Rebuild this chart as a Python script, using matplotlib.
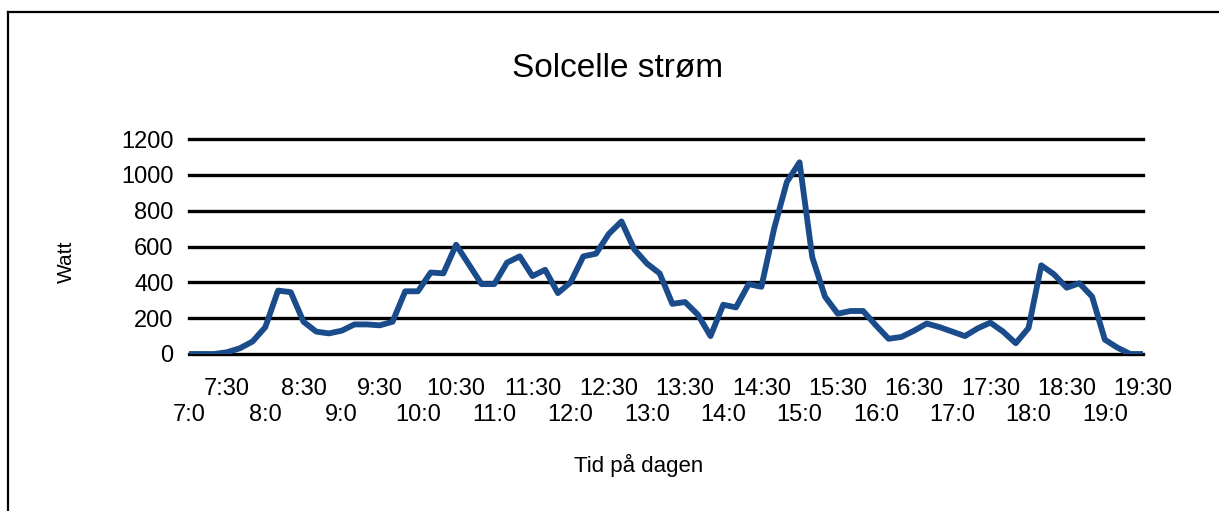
import numpy as np
import matplotlib
matplotlib.use("Agg")
import matplotlib.pyplot as plt
from matplotlib.lines import Line2D

plt.rcParams['font.family'] = ['Liberation Sans', 'DejaVu Sans']

# solar panel output, one reading every 10 minutes from 7:00 to 19:30
watt = [0, 0, 0, 10, 32, 70, 150, 354, 345, 180, 125, 115, 130,
        165, 165, 160, 180, 350, 350, 455, 450, 610, 500, 390, 390,
        510, 545, 435, 470, 340, 400, 545, 560, 670, 740, 585, 505,
        450, 280, 290, 220, 100, 275, 260, 390, 375, 700, 960, 1070,
        540, 320, 225, 240, 240, 160, 85, 95, 130, 170, 150, 125,
        100, 143, 175, 125, 60, 145, 495, 445, 370, 395, 320, 80,
        35, 0, 0]

tick_labels = ["7:0", "7:30", "8:0", "8:30", "9:0", "9:30", "10:0", "10:30",
               "11:0", "11:30", "12:0", "12:30", "13:0", "13:30", "14:0",
               "14:30", "15:0", "15:30", "16:0", "16:30", "17:0", "17:30",
               "18:0", "18:30", "19:0", "19:30"]
yticks = [0, 200, 400, 600, 800, 1000, 1200]

fig = plt.figure(figsize=(12.19, 5.11), dpi=100)
ax = fig.add_axes([189/1219, 1-354/511, (1143-189)/1219, (354-139)/511])

x = np.arange(len(watt))
for y in yticks:
    ax.axhline(y, color='black', lw=2.4, zorder=1, clip_on=False)
ax.plot(x, watt, color='#1a4b8a', lw=4.2, solid_joinstyle='round', zorder=3)

ax.set_xlim(0, len(watt) - 1)
ax.set_ylim(0, 1200)
for s in ax.spines.values():
    s.set_visible(False)

ax.set_yticks(yticks)
ax.set_yticklabels([str(v) for v in yticks], fontsize=17)
ax.tick_params(axis='y', length=0, pad=11)

# every third reading gets a label: half hours on the top row, hours below
xt = x[::3]
half = [i for i, l in enumerate(tick_labels) if ":30" in l]
full = [i for i, l in enumerate(tick_labels) if ":30" not in l]
ax.set_xticks(xt[half])
ax.set_xticklabels([tick_labels[i] for i in half], fontsize=17)
ax.set_xticks(xt[full], minor=True)
ax.set_xticklabels([tick_labels[i] for i in full], minor=True, fontsize=17)
ax.tick_params(axis='x', which='major', length=0, pad=17)
ax.tick_params(axis='x', which='minor', length=0, pad=36)

fig.text(0.507, 1-68/511, "Solcelle strøm", fontsize=24, ha='center', va='center')
fig.text(66/1219, 1-262/511, "Watt", fontsize=15, rotation=90, ha='center', va='center')
fig.text(639/1219, 1-465/511, "Tid på dagen", fontsize=16, ha='center', va='center')

# outer chart frame, running off the right and bottom of the picture
fig.add_artist(Line2D([8/1219, 8/1219], [0, 1-12/511], color='black', lw=1.6))
fig.add_artist(Line2D([8/1219, 1], [1-12/511, 1-12/511], color='black', lw=1.6))

fig.savefig("out.png", dpi=100)
